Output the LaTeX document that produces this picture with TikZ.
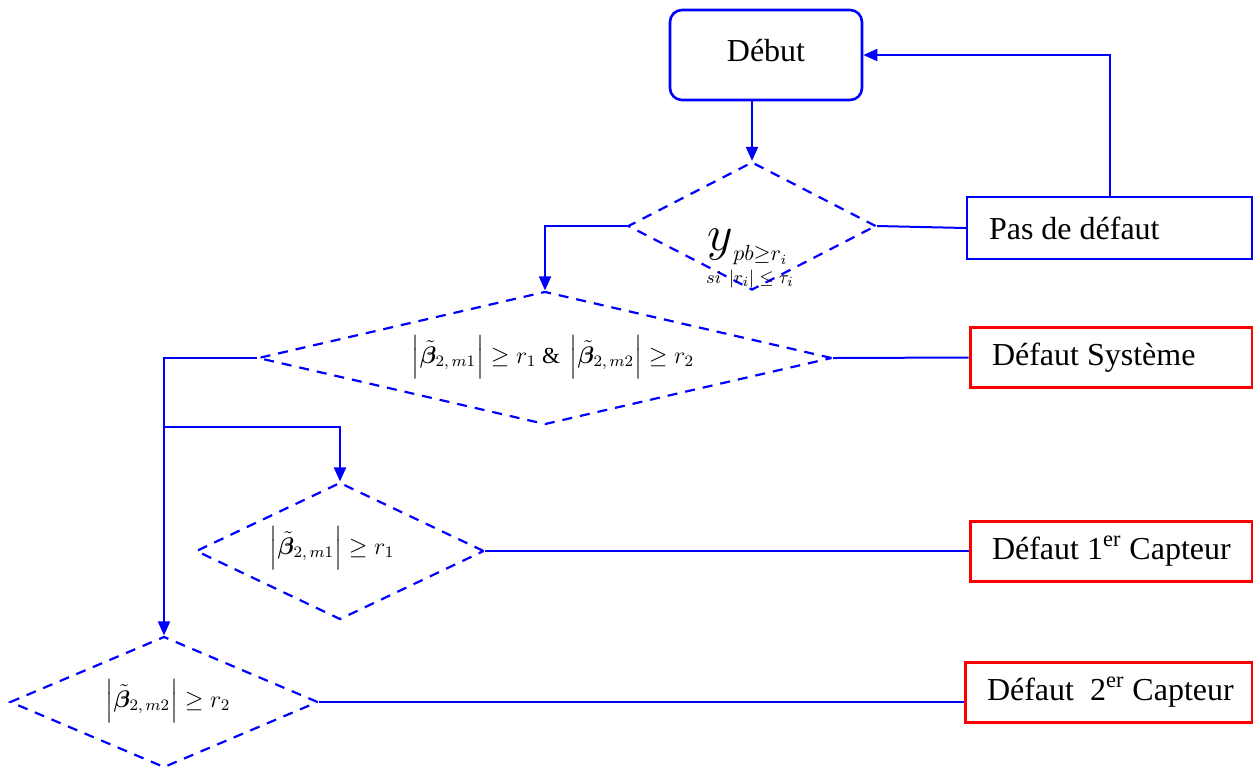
\documentclass[tikz,border=0pt]{standalone}
\usepackage{amsmath,bm}
\usepackage{fontspec}
\setmainfont{Liberation Serif}
\usetikzlibrary{arrows.meta,shapes.geometric,positioning}
\definecolor{flowblue}{RGB}{0,0,255}
\definecolor{flowred}{RGB}{255,0,0}
\newcommand{\bt}[1]{\left|\tilde{\bm{\beta}}_{2,\,#1}\right|}
\newcommand{\lefttext}[2]{\makebox[#1][l]{#2}}
\begin{document}
\begin{tikzpicture}[x=0.5pt,y=-0.5pt,
  conn/.style={draw=flowblue,line width=1pt},
  tip/.style={-{Triangle[length=7pt,width=6pt]}},
  test/.style={diamond,draw=flowblue,dashed,dash pattern=on 5pt off 4pt,line width=1.1pt,inner sep=0pt},
  okbox/.style={draw=flowblue,line width=1.2pt,minimum height=31pt,inner xsep=11pt,font=\fontsize{16}{19}\selectfont},
  faultbox/.style={draw=flowred,line width=1.5pt,minimum height=30pt,inner xsep=11pt,font=\fontsize{16}{19}\selectfont},
  formula/.style={inner sep=0pt,font=\fontsize{11.5}{13}\selectfont}]
\useasboundingbox (0,0) rectangle (1253,768);

% start block
\node[draw=flowblue,line width=1.3pt,rounded corners=6pt,minimum width=96pt,minimum height=45pt,
      font=\fontsize{16}{19}\selectfont] (start) at (766,55) {\raisebox{5pt}{Début}};

% decision diamonds
\node[test,minimum width=124pt,minimum height=64pt] (d1) at (752,226) {};
\node[test,minimum width=287pt,minimum height=66.5pt] (d2) at (545,358) {};
\node[test,minimum width=144pt,minimum height=68.5pt] (d3) at (340,551) {};
\node[test,minimum width=154pt,minimum height=65.5pt] (d4) at (164,702) {};

% conditions
\node[inner sep=0pt,font=\fontsize{15}{17}\selectfont] (c1a) at (748,247)
  {$\mbox{\fontsize{24}{26}\selectfont$y$}_{pb\geq r_i}$};
\node[inner sep=0pt,font=\fontsize{9.5}{11}\selectfont] (c1b) at (750,279) {$si\ \left|r_i\right|\leq \tau_i$};
\node[formula] (c2) at (553,357) {$\bt{m1}\geq r_1\ \&\ \bt{m2}\geq r_2$};
\node[formula] (c3) at (332,548) {$\bt{m1}\geq r_1$};
\node[formula] (c4) at (168,701) {$\bt{m2}\geq r_2$};

% outcome boxes
\node[okbox] (ok) at (1109.5,228) {\lefttext{120.5pt}{Pas de défaut}};
\node[faultbox] (sys) at (1111,357.5) {\lefttext{119pt}{Défaut Système}};
\node[faultbox] (s1) at (1111,551) {\lefttext{119pt}{Défaut 1\textsuperscript{er} Capteur}};
\node[faultbox] (s2) at (1108.5,692) {\lefttext{121.5pt}{Défaut~~2\textsuperscript{er} Capteur}};

% branch point towards the first sensor test
\coordinate (br) at (164,427);

% connectors
\draw[conn,tip] (d1.north |- start.south) -- (d1.north);
\draw[conn] (d1.east) -- (ok.west);
\draw[conn,tip] (ok.north) |- (start.east);
\draw[conn,tip] (d1.west) -| (d2.north);
\draw[conn] (d2.east) -- (sys.west);
\draw[conn,tip] (d2.west) -| (d4.north);
\draw[conn,tip] (br) -| (d3.north);
\draw[conn] (d3.east) -- (s1.west);
\draw[conn] (d4.east) -- (d4.east -| s2.west);
\end{tikzpicture}
\end{document}
